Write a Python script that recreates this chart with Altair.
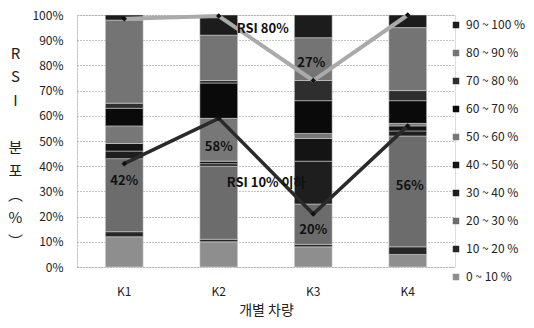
import altair as alt
import pandas as pd

categories = ["K1", "K2", "K3", "K4"]
bands = ["0  ~ 10 %", "10 ~ 20 %", "20 ~ 30 %", "30 ~ 40 %", "40 ~ 50 %",
         "50 ~ 60 %", "60 ~ 70 %", "70 ~ 80 %", "80 ~ 90 %", "90 ~ 100 %"]
band_colors = ["#8e8e8e", "#262626", "#6c6c6c", "#1e1e1e", "#141414",
               "#777777", "#0a0a0a", "#2e2e2e", "#747474", "#1c1c1c"]
segments = {
    "K1": [12, 2, 29, 3, 3, 7, 7, 2, 33, 2],
    "K2": [10, 1, 29, 1, 1, 17, 14, 1, 18, 8],
    "K3": [8, 1, 16, 17, 9, 2, 13, 8, 17, 9],
    "K4": [5, 3, 44, 2, 2, 1, 9, 4, 25, 5],
}
rsi80 = [98.5, 99.6, 74, 100]
rsi10 = [41, 59, 21, 56]
labels10 = ["42%", "58%", "20%", "56%"]
y_ticks = [0, 10, 20, 30, 40, 50, 60, 70, 80, 90, 100]

FONT = "Noto Sans CJK KR"
BLANK = "\u2800"

rows = []
for c in categories:
    for i, b in enumerate(bands):
        rows.append({"cat": c, "band": b, "idx": i, "val": segments[c][i]})
bar_df = pd.DataFrame(rows)

line_df = pd.DataFrame(
    [{"cat": c, "series": "RSI 80%", "val": v} for c, v in zip(categories, rsi80)]
    + [{"cat": c, "series": "RSI 10%", "val": v} for c, v in zip(categories, rsi10)]
)
lab10_df = pd.DataFrame({"cat": categories, "val": rsi10, "txt": labels10})

xaxis = alt.Axis(title="개별 차량", labelAngle=0, ticks=False, domain=False,
                 labelPadding=19, titlePadding=6, labelFontSize=12,
                 titleFontSize=14, labelColor="#222", titleColor="#222",
                 labelFont=FONT, titleFont=FONT, titleFontWeight="normal")
yaxis = alt.Axis(values=y_ticks, labelExpr="datum.value + '%'", tickCount=11,
                 labelOverlap=False,
                 grid=True, gridColor="#8a8a8a", gridDash=[1, 2], gridWidth=1,
                 ticks=False, domain=True, domainColor="#aaaaaa", domainDash=[1, 2],
                 labelPadding=14, labelFontSize=12, labelColor="#222", labelFont=FONT,
                 title=["R", "S", "I", BLANK, "분", "포", "︵", "%", "︶"],
                 titleAngle=0, titleX=-62, titleY=38, titleAlign="center",
                 titleBaseline="middle", titleLineHeight=23.5, titleFontSize=15,
                 titleFont=FONT, titleFontWeight="normal", titleColor="#222")
xscale = alt.Scale(paddingInner=0.6, paddingOuter=0.3)
yscale = alt.Scale(domain=[0, 100], nice=False)

def X():
    return alt.X("cat:N", sort=categories, scale=xscale, axis=xaxis)

def Y(field="val:Q"):
    return alt.Y(field, scale=yscale, axis=yaxis)

bars = alt.Chart(bar_df).mark_bar(stroke="#dddddd", strokeWidth=0.5).encode(
    x=X(),
    y=alt.Y("sum(val):Q", scale=yscale, stack="zero", axis=yaxis),
    color=alt.Color("band:N", scale=alt.Scale(domain=bands[::-1], range=band_colors[::-1]),
                    legend=alt.Legend(title=None, orient="none", legendX=373, legendY=4,
                                      symbolType="square", symbolSize=42, symbolStrokeWidth=0,
                                      labelFontSize=12, labelFont=FONT, labelColor="#222",
                                      labelOffset=4, rowPadding=16, padding=0, labelLimit=0)),
    order=alt.Order("idx:Q", sort="ascending"),
)

line80 = alt.Chart(line_df).transform_filter(alt.datum.series == "RSI 80%").mark_line(
    color="#aaaaaa", strokeWidth=4).encode(x=X(), y=Y())
line10 = alt.Chart(line_df).transform_filter(alt.datum.series == "RSI 10%").mark_line(
    color="#2a2a2a", strokeWidth=3.5).encode(x=X(), y=Y())
pts = alt.Chart(line_df).mark_point(filled=True, color="#111", size=30, shape="diamond", opacity=1).encode(
    x=X(), y=Y())

def lab(df, dx, dy, align="center", color="#111"):
    return alt.Chart(df).mark_text(font=FONT, fontSize=13, fontWeight="bold", color=color,
                                   dx=dx, dy=dy, align=align, baseline="middle").encode(
        x=X(), y=Y(), text="txt:N")

t42 = lab(lab10_df[lab10_df.cat == "K1"], 0, 17)
t58 = lab(lab10_df[lab10_df.cat == "K2"], 0, 29)
t20 = lab(lab10_df[lab10_df.cat == "K3"], 0, 16)
t56 = lab(lab10_df[lab10_df.cat == "K4"], 2, 60)
t27 = lab(pd.DataFrame({"cat": ["K3"], "val": [rsi80[2]], "txt": ["27%"]}), -2, -18)
tr80 = lab(pd.DataFrame({"cat": ["K2"], "val": [rsi80[1]], "txt": ["RSI 80%"]}), 44, 13)
tr10 = lab(pd.DataFrame({"cat": ["K2"], "val": [rsi10[1]], "txt": ["RSI 10% 이하"]}), 8, 65, align="left")

chart = alt.layer(bars, line80, line10, pts, t42, t58, t20, t56, t27, tr80, tr10).properties(
    width=378, height=252, autosize="none",
    padding={"left": 69, "top": 7, "right": 71, "bottom": 53},
).configure_view(stroke=None).configure(background="white")

chart.save("out.html", embed_options={"renderer": "svg", "actions": False})
